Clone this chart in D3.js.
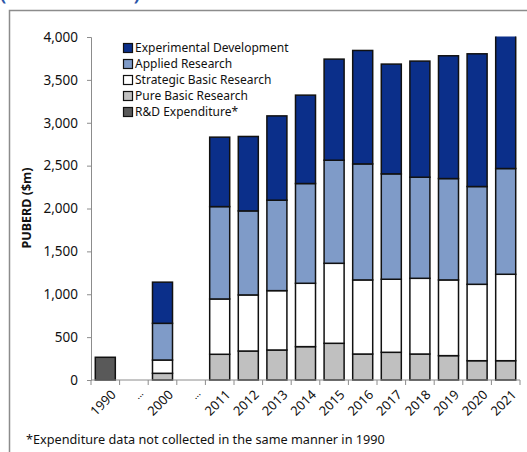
<!DOCTYPE html>
<html><head><meta charset="utf-8">
<script src="https://cdn.jsdelivr.net/npm/d3@7"></script>
<style>body{margin:0;background:#fff;}svg{display:block;}</style>
</head><body>
<svg id="c" width="527" height="452"></svg>
<script>
const categories = ["1990","...","2000","...","2011","2012","2013","2014","2015","2016","2017","2018","2019","2020","2021"];
const rdExpenditure = [265,0,0,0,0,0,0,0,0,0,0,0,0,0,0];
const pureBasic    = [0,0,78,0,300,338,350,389,428,303,323,303,284,225,225];
const strategic    = [0,0,155,0,645,654,692,739,933,864,852,883,883,891,1008];
const applied      = [0,0,428,0,1077,980,1055,1163,1202,1353,1229,1179,1182,1140,1233];
const experimental = [0,0,480,0,810,868,983,1031,1179,1323,1280,1354,1432,1548,1560];
const yTicks = [0,500,1000,1500,2000,2500,3000,3500,4000];
const seriesNames = ["R&D Expenditure*","Pure Basic Research","Strategic Basic Research","Applied Research","Experimental Development"];
const seriesColors = ["#595959","#c0c0c0","#ffffff","#7f9bc8","#0b2f8a"];
const legendOrder = ["Experimental Development","Applied Research","Strategic Basic Research","Pure Basic Research","R&D Expenditure*"];

const font = "'Noto Sans', 'Open Sans', sans-serif";
const svg = d3.select("#c");

// Title fragment (cut off at top)
svg.append("text").attr("x",-1).attr("y",-1).attr("font-family",font).attr("font-size",25)
  .attr("fill","#2a56a8").text("(1990–2021)");

// Frame
svg.append("path").attr("d","M9.5,452 L9.5,10.5 L540,10.5").attr("fill","none").attr("stroke","#8c8c8c").attr("stroke-width",1.5);

const idx = d3.range(categories.length);
const x = d3.scaleBand().domain(idx).range([91,520]).paddingInner(0.3).paddingOuter(0.15);
const y = d3.scaleLinear().domain([0,4000]).range([380,37]);

const data = idx.map(i=>({i, v:[rdExpenditure[i],pureBasic[i],strategic[i],applied[i],experimental[i]]}));
const stack = d3.stack().keys([0,1,2,3,4]).value((d,k)=>d.v[k]);
const layers = stack(data);

svg.append("clipPath").attr("id","clip").append("rect").attr("x",91).attr("y",36.5).attr("width",440).attr("height",345);

const g = svg.append("g").attr("clip-path","url(#clip)");
layers.forEach((layer,li)=>{
  g.selectAll(null).data(layer.filter(d=>d[1]-d[0]>0)).join("rect")
    .attr("x",d=>x(d.data.i)).attr("width",x.bandwidth())
    .attr("y",d=>y(d[1])).attr("height",d=>y(d[0])-y(d[1]))
    .attr("fill",seriesColors[li]).attr("stroke","#111").attr("stroke-width",1.5);
});

// Y axis
const yAxis = svg.append("g").attr("transform","translate(91,0)")
  .call(d3.axisLeft(y).tickValues(yTicks).tickSize(4).tickFormat(d3.format(",")));
yAxis.select(".domain").attr("stroke","#8c8c8c");
yAxis.selectAll(".tick line").attr("stroke","#8c8c8c");
yAxis.selectAll("text").attr("font-family",font).attr("font-size",13.5).attr("fill","#111").attr("x",-13);

// X axis
const step = x.step();
const xAxisG = svg.append("g").attr("transform","translate(0,380)");
xAxisG.append("line").attr("x1",91).attr("x2",520).attr("y1",0).attr("y2",0).attr("stroke","#8c8c8c");
d3.range(categories.length+1).forEach(i=>{
  xAxisG.append("line").attr("x1",91+i*step).attr("x2",91+i*step).attr("y1",0).attr("y2",5).attr("stroke","#8c8c8c");
});
idx.forEach(i=>{
  const c = categories[i];
  const cx = x(i)+x.bandwidth()/2;
  xAxisG.append("text")
    .attr("transform",`translate(${cx+5},9) rotate(-45)`)
    .attr("text-anchor","end").attr("dy","0.71em")
    .attr("font-family",font).attr("font-size",c==="..."?10:13).attr("fill","#111").text(c);
});

// Y title
svg.append("text").attr("transform","translate(31,208) rotate(-90)").attr("text-anchor","middle")
  .attr("font-family",font).attr("font-size",12.5).attr("font-weight","bold").attr("fill","#111").text("PUBERD ($m)");

// Legend
const lg = svg.append("g").attr("transform","translate(123,48)");
legendOrder.forEach((n,i)=>{
  const k = seriesNames.indexOf(n);
  lg.append("rect").attr("x",0.5).attr("y",i*16-4.5).attr("width",9).attr("height",9)
    .attr("fill",seriesColors[k]).attr("stroke","#111").attr("stroke-width",1.2);
  lg.append("text").attr("x",12).attr("y",i*16).attr("dy","0.35em")
    .attr("font-family",font).attr("font-size",12).attr("fill","#111").text(n);
});

// Footnote
svg.append("text").attr("x",26).attr("y",444).attr("font-family",font).attr("font-size",12.7).attr("fill","#111")
  .text("*Expenditure data not collected in the same manner in 1990");
</script>
</body></html>
